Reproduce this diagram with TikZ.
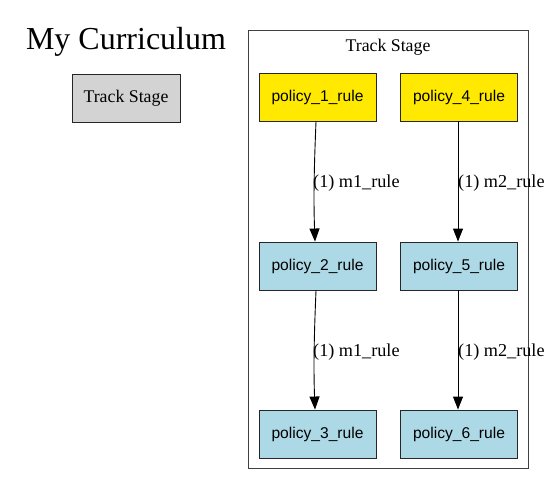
\documentclass[tikz,border=0pt]{standalone}
\usepackage{fontspec}
\setmainfont{Liberation Serif}
\setsansfont{Liberation Sans}
\usetikzlibrary{arrows.meta}

\definecolor{ruleyellow}{RGB}{255,233,0}
\definecolor{ruleblue}{RGB}{173,216,230}
\definecolor{stagegray}{RGB}{211,211,211}

\tikzset{
  >={Triangle[length=13pt,width=10pt]},
  rulebox/.style ={draw=black!85, line width=0.9pt, minimum width=117pt,
                   minimum height=48pt, inner sep=0pt,
                   font=\sffamily\fontsize{15.6}{18}\selectfont},
  stagebox/.style={draw=black!85, line width=0.9pt, fill=stagegray,
                   minimum width=108pt, minimum height=48pt, inner sep=0pt,
                   font=\fontsize{17.8}{20}\selectfont},
  edgelbl/.style ={anchor=west, inner sep=0pt,
                   font=\fontsize{18.2}{20}\selectfont},
}

\begin{document}
\begin{tikzpicture}[x=1pt, y=-1pt, line cap=round]

\useasboundingbox (0,0) rectangle (551,485);

%--- Legend side ---
\node[font=\fontsize{32}{36}\selectfont] (title) at (126,42) {My Curriculum};
\node[stagebox] (legend) at (126,98) {Track Stage};

%--- Cluster frame ---
\draw[black!75, line width=0.9pt] (248,30) rectangle (528,468);
\node[font=\fontsize{17.8}{20}\selectfont] (clusterlbl) at (388,47) {Track Stage};

%--- Rule nodes ---
\def\colA{317.5}
\def\colB{459}
\node[rulebox, fill=ruleyellow] (p1) at (\colA,97)  {policy\_1\_rule};
\node[rulebox, fill=ruleyellow] (p4) at (\colB,97)  {policy\_4\_rule};
\node[rulebox, fill=ruleblue]   (p2) at (\colA,266) {policy\_2\_rule};
\node[rulebox, fill=ruleblue]   (p5) at (\colB,266) {policy\_5\_rule};
\node[rulebox, fill=ruleblue]   (p3) at (\colA,434) {policy\_3\_rule};
\node[rulebox, fill=ruleblue]   (p6) at (\colB,434) {policy\_6\_rule};

%--- Edges (m1 on the left, m2 on the right) ---
\draw[->, line width=0.9pt] ([xshift=-1.5pt]p1.south)
  .. controls (314,170) and (313.5,200) .. ([xshift=-2.5pt]p2.north);
\draw[->, line width=0.9pt] ([xshift=-1.5pt]p2.south)
  .. controls (314,338) and (313.5,368) .. ([xshift=-2.5pt]p3.north);
\draw[->, line width=0.9pt] ([xshift=-1pt]p4.south) -- ([xshift=-1pt]p5.north);
\draw[->, line width=0.9pt] ([xshift=-1pt]p5.south) -- ([xshift=-1pt]p6.north);

\node[edgelbl] (l12) at (313,183) {(1) m1\_rule};
\node[edgelbl] (l23) at (313,352) {(1) m1\_rule};
\node[edgelbl] (l45) at (458,183) {(1) m2\_rule};
\node[edgelbl] (l56) at (458,352) {(1) m2\_rule};

\end{tikzpicture}
\end{document}
